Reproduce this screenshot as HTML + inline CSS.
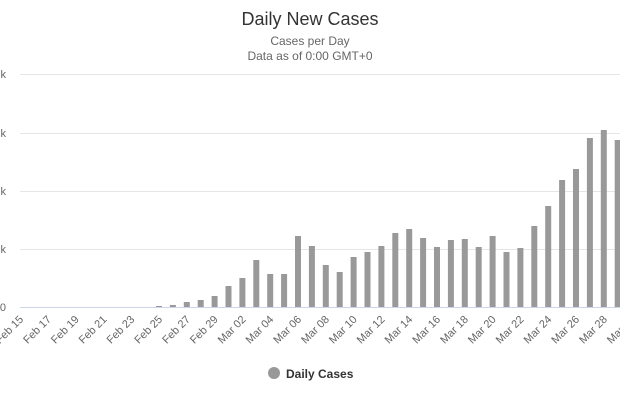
<!DOCTYPE html>
<html><head><style>
body{margin:0;background:#fff;}
svg{display:block;font-family:"Liberation Sans",sans-serif;}
</style></head><body>
<svg width="620" height="400" xmlns="http://www.w3.org/2000/svg">
<text x="310" y="25" text-anchor="middle" font-size="18" fill="#333">Daily New Cases</text>
<text x="310" y="45" text-anchor="middle" font-size="12" fill="#666">Cases per Day</text>
<text x="310" y="60" text-anchor="middle" font-size="12" fill="#666">Data as of 0:00 GMT+0</text>
<g stroke="#e6e6e6" stroke-width="1">
<line x1="20" x2="620" y1="74.5" y2="74.5"/>
<line x1="20" x2="620" y1="133.5" y2="133.5"/>
<line x1="20" x2="620" y1="191.5" y2="191.5"/>
<line x1="20" x2="620" y1="249.5" y2="249.5"/>
</g>
<line x1="20" x2="620" y1="307.5" y2="307.5" stroke="#ccd6eb"/>
<g font-size="11" fill="#666" text-anchor="end">
<text x="6" y="78">20k</text><text x="6" y="137">15k</text><text x="6" y="195">10k</text><text x="6" y="253">5k</text><text x="6" y="311">0</text>
</g>
<g fill="#999">
<rect x="156" y="306" width="6" height="1"/>
<rect x="169.9" y="305" width="6" height="2"/>
<rect x="183.8" y="302" width="6" height="5"/>
<rect x="197.7" y="300" width="6" height="7"/>
<rect x="211.6" y="296" width="6" height="11"/>
<rect x="225.5" y="286" width="6" height="21"/>
<rect x="239.4" y="278" width="6" height="29"/>
<rect x="253.3" y="260" width="6" height="47"/>
<rect x="267.2" y="274" width="6" height="33"/>
<rect x="281.1" y="274" width="6" height="33"/>
<rect x="295" y="236" width="6" height="71"/>
<rect x="308.9" y="246" width="6" height="61"/>
<rect x="322.8" y="265" width="6" height="42"/>
<rect x="336.7" y="272" width="6" height="35"/>
<rect x="350.6" y="257" width="6" height="50"/>
<rect x="364.5" y="252" width="6" height="55"/>
<rect x="378.4" y="246" width="6" height="61"/>
<rect x="392.3" y="233" width="6" height="74"/>
<rect x="406.2" y="229" width="6" height="78"/>
<rect x="420.1" y="238" width="6" height="69"/>
<rect x="434" y="247" width="6" height="60"/>
<rect x="447.9" y="240" width="6" height="67"/>
<rect x="461.8" y="239" width="6" height="68"/>
<rect x="475.7" y="247" width="6" height="60"/>
<rect x="489.6" y="236" width="6" height="71"/>
<rect x="503.5" y="252" width="6" height="55"/>
<rect x="517.4" y="248" width="6" height="59"/>
<rect x="531.3" y="226" width="6" height="81"/>
<rect x="545.2" y="206" width="6" height="101"/>
<rect x="559.1" y="180" width="6" height="127"/>
<rect x="573" y="169" width="6" height="138"/>
<rect x="586.9" y="138" width="6" height="169"/>
<rect x="600.8" y="130" width="6" height="177"/>
<rect x="614.7" y="140" width="6" height="167"/>
</g>
<g font-size="11" fill="#666" text-anchor="end">
<text transform="translate(24,320) rotate(-45)">Feb 15</text>
<text transform="translate(51.8,320) rotate(-45)">Feb 17</text>
<text transform="translate(79.6,320) rotate(-45)">Feb 19</text>
<text transform="translate(107.4,320) rotate(-45)">Feb 21</text>
<text transform="translate(135.2,320) rotate(-45)">Feb 23</text>
<text transform="translate(163,320) rotate(-45)">Feb 25</text>
<text transform="translate(190.8,320) rotate(-45)">Feb 27</text>
<text transform="translate(218.6,320) rotate(-45)">Feb 29</text>
<text transform="translate(246.4,320) rotate(-45)">Mar 02</text>
<text transform="translate(274.2,320) rotate(-45)">Mar 04</text>
<text transform="translate(302,320) rotate(-45)">Mar 06</text>
<text transform="translate(329.8,320) rotate(-45)">Mar 08</text>
<text transform="translate(357.6,320) rotate(-45)">Mar 10</text>
<text transform="translate(385.4,320) rotate(-45)">Mar 12</text>
<text transform="translate(413.2,320) rotate(-45)">Mar 14</text>
<text transform="translate(441,320) rotate(-45)">Mar 16</text>
<text transform="translate(468.8,320) rotate(-45)">Mar 18</text>
<text transform="translate(496.6,320) rotate(-45)">Mar 20</text>
<text transform="translate(524.4,320) rotate(-45)">Mar 22</text>
<text transform="translate(552.2,320) rotate(-45)">Mar 24</text>
<text transform="translate(580,320) rotate(-45)">Mar 26</text>
<text transform="translate(607.8,320) rotate(-45)">Mar 28</text>
<text transform="translate(635.6,320) rotate(-45)">Mar 30</text>
</g>
<circle cx="274" cy="373" r="6" fill="#999"/>
<text x="286" y="378" font-size="12" font-weight="bold" fill="#333">Daily Cases</text>
</svg>
</body></html>
